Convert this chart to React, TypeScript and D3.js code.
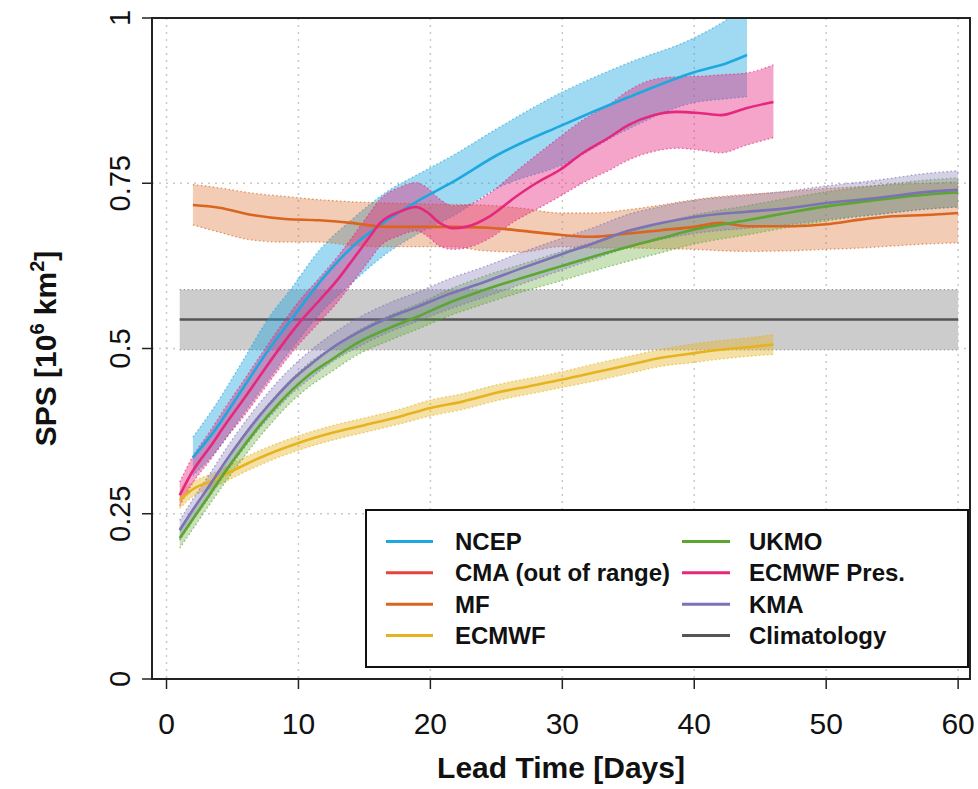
import React from "react";
import * as d3 from "d3";

// ---------- data ----------
const xTicks = [0, 10, 20, 30, 40, 50, 60];
const yTicks = [0, 0.25, 0.5, 0.75, 1];
const yTickLabels = ["0", "0.25", "0.5", "0.75", "1"];

const ncepDays = [2, 3.5, 5.8, 7.7, 9.5, 11.6, 14.1, 16.7, 19.2, 21.7, 25, 30, 35, 40, 42.5, 44];
const ncepMean = [0.335, 0.372, 0.44, 0.497, 0.545, 0.6, 0.654, 0.694, 0.725, 0.752, 0.792, 0.838, 0.88, 0.918, 0.932, 0.944];
const ncepLo = [0.308, 0.338, 0.4, 0.452, 0.5, 0.552, 0.6, 0.644, 0.675, 0.7, 0.742, 0.778, 0.832, 0.872, 0.878, 0.881];
const ncepHi = [0.366, 0.408, 0.482, 0.545, 0.592, 0.649, 0.696, 0.737, 0.765, 0.792, 0.832, 0.888, 0.932, 0.97, 0.998, 1.02];

const mfDays = [2, 4, 6.5, 9, 11.6, 14, 16.7, 19, 21.7, 24, 27, 29.8, 32.3, 35, 37.5, 40, 42, 44, 47.5, 50, 52.6, 55, 57.5, 60];
const mfMean = [0.717, 0.713, 0.702, 0.696, 0.694, 0.69, 0.684, 0.684, 0.684, 0.683, 0.678, 0.672, 0.669, 0.674, 0.679, 0.684, 0.69, 0.685, 0.685, 0.688, 0.695, 0.7, 0.702, 0.705];
const mfLo = [0.687, 0.676, 0.664, 0.661, 0.661, 0.656, 0.654, 0.654, 0.654, 0.648, 0.646, 0.654, 0.652, 0.652, 0.651, 0.65, 0.648, 0.647, 0.648, 0.65, 0.652, 0.655, 0.658, 0.66];
const mfHi = [0.748, 0.743, 0.735, 0.73, 0.725, 0.722, 0.72, 0.719, 0.718, 0.717, 0.712, 0.705, 0.705, 0.71, 0.717, 0.725, 0.73, 0.733, 0.738, 0.742, 0.745, 0.748, 0.75, 0.752];

const ecDays = [1, 2, 3.5, 5, 7, 10, 12.5, 15, 17.5, 20, 22.5, 25, 27.5, 30, 32.5, 35, 37.5, 40, 42, 44, 46];
const ecMean = [0.27, 0.287, 0.3, 0.315, 0.334, 0.357, 0.372, 0.384, 0.396, 0.41, 0.42, 0.433, 0.443, 0.453, 0.464, 0.475, 0.486, 0.493, 0.498, 0.502, 0.506];
const ecLo = [0.258, 0.276, 0.289, 0.304, 0.323, 0.346, 0.361, 0.373, 0.385, 0.398, 0.408, 0.421, 0.431, 0.441, 0.451, 0.462, 0.473, 0.479, 0.484, 0.488, 0.491];
const ecHi = [0.282, 0.298, 0.311, 0.326, 0.345, 0.368, 0.383, 0.395, 0.407, 0.422, 0.432, 0.445, 0.455, 0.465, 0.477, 0.488, 0.499, 0.507, 0.512, 0.516, 0.521];

const ukDays = [1, 2, 3.3, 4.5, 5.8, 7, 8.3, 9.5, 10.8, 12.5, 14.6, 17, 19, 21.5, 24, 27, 30, 32.5, 35, 37.5, 40, 44, 47, 50, 54, 57.7, 60];
const ukMean = [0.213, 0.242, 0.28, 0.315, 0.351, 0.382, 0.412, 0.437, 0.46, 0.483, 0.51, 0.532, 0.548, 0.57, 0.588, 0.607, 0.625, 0.64, 0.654, 0.667, 0.68, 0.694, 0.705, 0.715, 0.725, 0.733, 0.736];
const ukLo = [0.198, 0.227, 0.265, 0.299, 0.334, 0.365, 0.395, 0.42, 0.442, 0.465, 0.492, 0.513, 0.529, 0.55, 0.567, 0.586, 0.603, 0.618, 0.632, 0.645, 0.658, 0.672, 0.683, 0.693, 0.703, 0.711, 0.714];
const ukHi = [0.228, 0.257, 0.295, 0.331, 0.368, 0.399, 0.429, 0.454, 0.478, 0.501, 0.528, 0.551, 0.567, 0.59, 0.609, 0.628, 0.647, 0.662, 0.676, 0.689, 0.702, 0.716, 0.727, 0.737, 0.747, 0.755, 0.758];

const kmaDays = [1, 2, 3.3, 4.5, 5.8, 7, 8.3, 9.5, 10.8, 12.5, 14.6, 17, 19, 21.5, 24, 27, 30, 32.5, 35, 37.5, 40, 44, 47, 50, 54, 57.7, 60];
const kmaMean = [0.225, 0.256, 0.294, 0.33, 0.366, 0.397, 0.427, 0.452, 0.474, 0.5, 0.525, 0.548, 0.563, 0.583, 0.6, 0.622, 0.643, 0.66, 0.678, 0.69, 0.699, 0.707, 0.712, 0.72, 0.728, 0.737, 0.74];
const kmaLo = [0.21, 0.24, 0.277, 0.312, 0.347, 0.378, 0.407, 0.432, 0.453, 0.479, 0.503, 0.526, 0.541, 0.56, 0.577, 0.598, 0.619, 0.636, 0.653, 0.665, 0.674, 0.682, 0.687, 0.695, 0.703, 0.711, 0.714];
const kmaHi = [0.24, 0.272, 0.311, 0.348, 0.385, 0.416, 0.447, 0.472, 0.495, 0.521, 0.547, 0.57, 0.585, 0.606, 0.623, 0.646, 0.667, 0.684, 0.703, 0.715, 0.724, 0.732, 0.738, 0.746, 0.755, 0.765, 0.769];

const epDays = [1, 2, 3.3, 4.5, 5.8, 7, 8.3, 10.1, 11.6, 13, 14.1, 15.4, 16.2, 17.7, 18.9, 19.7, 20.7, 21.7, 22.7, 24.5, 26.5, 28, 29.8, 31.5, 33.6, 35, 36.9, 38.7, 40.5, 42, 44, 46];
const epMean = [0.278, 0.315, 0.351, 0.386, 0.422, 0.456, 0.493, 0.54, 0.573, 0.605, 0.634, 0.669, 0.69, 0.707, 0.714, 0.707, 0.69, 0.682, 0.684, 0.7, 0.73, 0.75, 0.77, 0.795, 0.82, 0.838, 0.853, 0.858, 0.856, 0.853, 0.864, 0.873];
const epLo = [0.262, 0.297, 0.331, 0.364, 0.396, 0.428, 0.463, 0.508, 0.54, 0.571, 0.6, 0.634, 0.655, 0.671, 0.678, 0.671, 0.655, 0.65, 0.652, 0.667, 0.694, 0.71, 0.73, 0.75, 0.77, 0.785, 0.798, 0.803, 0.8, 0.796, 0.808, 0.819];
const epHi = [0.298, 0.337, 0.375, 0.412, 0.45, 0.486, 0.524, 0.573, 0.607, 0.64, 0.669, 0.705, 0.726, 0.744, 0.751, 0.744, 0.726, 0.716, 0.717, 0.735, 0.768, 0.792, 0.82, 0.845, 0.87, 0.89, 0.907, 0.911, 0.912, 0.914, 0.917, 0.929];

const climDays = [1, 60];
const climMean = [0.544, 0.544];
const climLo = [0.498, 0.498];
const climHi = [0.589, 0.589];

const legendCol1 = ["NCEP", "CMA (out of range)", "MF", "ECMWF"];
const legendCol2 = ["UKMO", "ECMWF Pres.", "KMA", "Climatology"];

const colors: Record<string, string> = {
  NCEP: "#1DA8E0",
  "CMA (out of range)": "#E8413C",
  MF: "#D9651E",
  ECMWF: "#E6B31E",
  UKMO: "#5BA72F",
  "ECMWF Pres.": "#E5287E",
  KMA: "#7C72B5",
  Climatology: "#555555",
};
const bandOpacity: Record<string, number> = {
  NCEP: 0.42,
  MF: 0.33,
  ECMWF: 0.4,
  UKMO: 0.33,
  KMA: 0.33,
  "ECMWF Pres.": 0.42,
};

type Series = { name: string; days: number[]; mean: number[]; lo: number[]; hi: number[] };
const series: Series[] = [
  { name: "NCEP", days: ncepDays, mean: ncepMean, lo: ncepLo, hi: ncepHi },
  { name: "MF", days: mfDays, mean: mfMean, lo: mfLo, hi: mfHi },
  { name: "ECMWF", days: ecDays, mean: ecMean, lo: ecLo, hi: ecHi },
  { name: "UKMO", days: ukDays, mean: ukMean, lo: ukLo, hi: ukHi },
  { name: "KMA", days: kmaDays, mean: kmaMean, lo: kmaLo, hi: kmaHi },
  { name: "ECMWF Pres.", days: epDays, mean: epMean, lo: epLo, hi: epHi },
];

// ---------- layout ----------
const W = 978;
const H = 789;
const box = { left: 152, right: 970, top: 18, bottom: 679 };
const FONT = "'Liberation Sans', Arial, Helvetica, sans-serif";

export default function App() {
  const sx = d3.scaleLinear().domain([-1.1, 60.9]).range([box.left, box.right]);
  const sy = d3.scaleLinear().domain([0, 1]).range([box.bottom, box.top]);

  const curve = d3.curveMonotoneX;
  const mkLine = (days: number[], vals: number[]) =>
    d3.line<number>().x((_, i) => sx(days[i])).y((v) => sy(v)).curve(curve)(vals) || "";
  const mkArea = (s: { days: number[]; lo: number[]; hi: number[] }) =>
    d3
      .area<number>()
      .x((d) => sx(d))
      .y0((_, i) => sy(s.lo[i]))
      .y1((_, i) => sy(s.hi[i]))
      .curve(curve)(s.days) || "";

  const legendRow = (i: number) => 510 + 157 * (0.2 * (i + 1));

  return (
    <svg
      width={W}
      height={H}
      style={{ position: "absolute", left: 0, top: 0, background: "#fff" }}
      fontFamily={FONT}
    >
      <defs>
        <clipPath id="plotclip">
          <rect x={box.left} y={box.top} width={box.right - box.left} height={box.bottom - box.top} />
        </clipPath>
      </defs>
      <rect x={0} y={0} width={W} height={H} fill="#fff" />

      {/* grid */}
      <g stroke="#c8c8c8" strokeWidth={1.5} strokeDasharray="2 5">
        {xTicks.map((t) => (
          <line key={"gx" + t} x1={sx(t)} x2={sx(t)} y1={box.top} y2={box.bottom} />
        ))}
        {yTicks.map((t) => (
          <line key={"gy" + t} x1={box.left} x2={box.right} y1={sy(t)} y2={sy(t)} />
        ))}
      </g>

      <g clipPath="url(#plotclip)">
        {/* climatology */}
        <path d={mkArea({ days: climDays, lo: climLo, hi: climHi })} fill="#cccccc" />
        <g stroke="#999" strokeWidth={1.3} strokeDasharray="1.5 2.5" fill="none">
          <path d={mkLine(climDays, climLo)} />
          <path d={mkLine(climDays, climHi)} />
        </g>
        <path d={mkLine(climDays, climMean)} stroke={colors.Climatology} strokeWidth={2.5} fill="none" />

        {series.map((s) => (
          <g key={s.name}>
            <path d={mkArea(s)} fill={colors[s.name]} fillOpacity={bandOpacity[s.name]} />
            <g stroke={colors[s.name]} strokeOpacity={0.65} strokeWidth={1.3} strokeDasharray="1.5 2.5" fill="none">
              <path d={mkLine(s.days, s.lo)} />
              <path d={mkLine(s.days, s.hi)} />
            </g>
          </g>
        ))}
        {series.map((s) => (
          <path key={s.name + "l"} d={mkLine(s.days, s.mean)} stroke={colors[s.name]} strokeWidth={2.6} fill="none" />
        ))}
      </g>

      {/* box */}
      <rect
        x={box.left}
        y={box.top}
        width={box.right - box.left}
        height={box.bottom - box.top}
        fill="none"
        stroke="#222"
        strokeWidth={2}
      />

      {/* x axis */}
      {xTicks.map((t) => (
        <g key={"xt" + t}>
          <line x1={sx(t)} x2={sx(t)} y1={box.bottom} y2={box.bottom + 10} stroke="#222" strokeWidth={1.5} />
          <text x={sx(t)} y={734} textAnchor="middle" fontSize={30} fill="#111">
            {t}
          </text>
        </g>
      ))}
      <text x={(box.left + box.right) / 2} y={778} textAnchor="middle" fontSize={30} fontWeight="bold" fill="#111">
        Lead Time [Days]
      </text>

      {/* y axis */}
      {yTicks.map((t, i) => (
        <g key={"yt" + t}>
          <line x1={box.left - 10} x2={box.left} y1={sy(t)} y2={sy(t)} stroke="#222" strokeWidth={1.5} />
          <text
            transform={`translate(130,${sy(t)}) rotate(-90)`}
            textAnchor="middle"
            fontSize={29}
            fill="#111"
          >
            {yTickLabels[i]}
          </text>
        </g>
      ))}
      <text
        transform={`translate(56,${(box.top + box.bottom) / 2}) rotate(-90)`}
        textAnchor="middle"
        fontSize={30}
        fontWeight="bold"
        fill="#111"
      >
        SPS [10
        <tspan fontSize={20} dy={-12}>6</tspan>
        <tspan dy={12}> km</tspan>
        <tspan fontSize={20} dy={-12}>2</tspan>
        <tspan dy={12}>]</tspan>
      </text>

      {/* legend */}
      <rect x={366} y={510} width={602} height={157} fill="#fff" stroke="#111" strokeWidth={2} />
      {legendCol1.map((name, i) => (
        <g key={name}>
          <line x1={386} x2={433} y1={legendRow(i)} y2={legendRow(i)} stroke={colors[name]} strokeWidth={3} />
          <text x={455} y={legendRow(i)} dy="0.36em" fontSize={24} fontWeight="bold" fill="#111">
            {name}
          </text>
        </g>
      ))}
      {legendCol2.map((name, i) => (
        <g key={name}>
          <line x1={682} x2={730} y1={legendRow(i)} y2={legendRow(i)} stroke={colors[name]} strokeWidth={3} />
          <text x={749} y={legendRow(i)} dy="0.36em" fontSize={24} fontWeight="bold" fill="#111">
            {name}
          </text>
        </g>
      ))}
    </svg>
  );
}
